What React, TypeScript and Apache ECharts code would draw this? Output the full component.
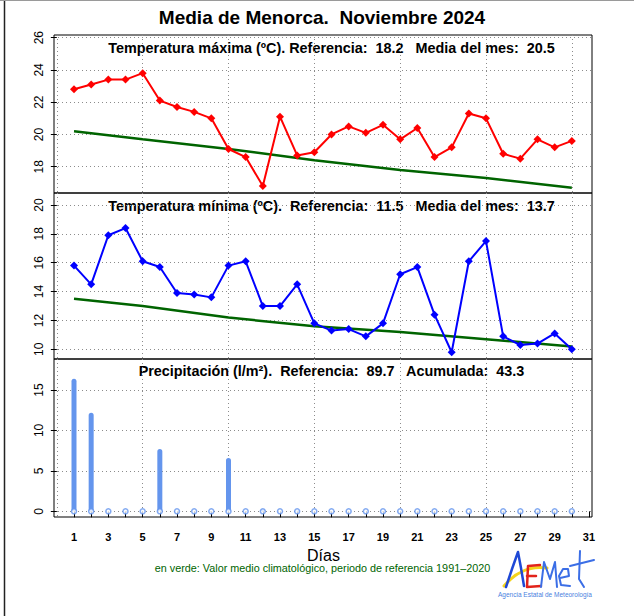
import React, { useEffect, useRef } from "react";
import * as echarts from "echarts";

const FONT = '"Liberation Sans", Arial, Helvetica, sans-serif';

const days = [1, 2, 3, 4, 5, 6, 7, 8, 9, 10, 11, 12, 13, 14, 15, 16, 17, 18, 19, 20, 21, 22, 23, 24, 25, 26, 27, 28, 29, 30];
const tickDays = [1, 2, 3, 4, 5, 6, 7, 8, 9, 10, 11, 12, 13, 14, 15, 16, 17, 18, 19, 20, 21, 22, 23, 24, 25, 26, 27, 28, 29, 30, 31];
const labelDays = [1, 3, 5, 7, 9, 11, 13, 15, 17, 19, 21, 23, 25, 27, 29, 31];
const gridDays = [0, 5, 10, 15, 20, 25, 30];

const tmax = [22.8, 23.1, 23.4, 23.4, 23.8, 22.1, 21.7, 21.4, 21.0, 19.1, 18.6, 16.8, 21.1, 18.7, 18.9, 20.0, 20.5, 20.1, 20.6, 19.7, 20.4, 18.6, 19.2, 21.3, 21.0, 18.8, 18.5, 19.7, 19.2, 19.6];
const tmin = [15.8, 14.5, 17.9, 18.4, 16.1, 15.7, 13.9, 13.8, 13.6, 15.8, 16.1, 13.0, 13.0, 14.5, 11.8, 11.3, 11.4, 10.9, 11.8, 15.2, 15.7, 12.4, 9.8, 16.1, 17.5, 10.9, 10.3, 10.4, 11.1, 10.0];
const precip = [16.4, 12.2, 0, 0, 0, 7.7, 0, 0, 0, 6.6, 0, 0.3, 0, 0.1, 0, 0, 0, 0, 0, 0, 0, 0, 0, 0, 0, 0, 0, 0, 0, 0];

const climDays = [1, 5, 10, 15, 20, 25, 30];
const tmaxClim = [20.2, 19.7, 19.1, 18.4, 17.8, 17.3, 16.7];
const tminClim = [13.5, 13.0, 12.2, 11.6, 11.2, 10.7, 10.2];

const tmaxTicks = [18, 20, 22, 24, 26];
const tminTicks = [10, 12, 14, 16, 18, 20];
const precipTicks = [0, 5, 10, 15];

const mainTitle = "Media de Menorca.  Noviembre 2024";
const tmaxTitle = "Temperatura máxima (ºC). Referencia:  18.2   Media del mes:  20.5";
const tminTitle = "Temperatura mínima (ºC).  Referencia:  11.5   Media del mes:  13.7";
const precipTitle = "Precipitación (l/m²).  Referencia:  89.7   Acumulada:  43.3";
const xName = "Días";
const footnote = "en verde: Valor medio climatológico, periodo de referencia 1991\u20132020";
const logoSub = "Agencia Estatal de Meteorología";

const X_MIN = -0.165;
const X_MAX = 31.175;
const GRID_LINE = { show: true, lineStyle: { type: [1, 3], color: "#8c8c8c", width: 1 } };

function xAxisFor(i: number) {
  return {
    type: "value",
    gridIndex: i,
    min: X_MIN,
    max: X_MAX,
    show: i === 2,
    axisLine: { show: false },
    splitLine: { show: false },
    axisTick: { show: true, customValues: tickDays, length: 6, lineStyle: { color: "#000", width: 1 } },
    axisLabel: { customValues: labelDays, fontWeight: "bold", fontSize: 11, color: "#000", margin: 14, fontFamily: FONT },
  };
}

function xGridAxisFor(i: number) {
  return {
    type: "value",
    gridIndex: i,
    min: X_MIN,
    max: X_MAX,
    show: true,
    axisLine: { show: false },
    axisTick: { show: false, customValues: gridDays },
    axisLabel: { show: false, customValues: gridDays },
    splitLine: GRID_LINE,
  };
}

function yAxisFor(i: number, min: number, max: number, ticks: number[]) {
  return {
    type: "value",
    gridIndex: i,
    min,
    max,
    axisLine: { show: false },
    splitLine: GRID_LINE,
    axisTick: { show: true, customValues: ticks, length: 6, lineStyle: { color: "#000", width: 1 } },
    axisLabel: { customValues: ticks, rotate: 90, fontSize: 12, color: "#000", margin: 9, fontFamily: FONT },
  };
}

export default function App() {
  const ref = useRef<HTMLDivElement>(null);
  useEffect(() => {
    if (!ref.current) return;
    const chart = echarts.init(ref.current, null, { renderer: "svg" });
    const gridBase = { left: 54, right: 42, show: true, borderColor: "#000", borderWidth: 1, backgroundColor: "transparent" };
    const option: any = {
      animation: false,
      backgroundColor: "#fff",
      textStyle: { fontFamily: FONT },
      grid: [
        { ...gridBase, top: 35, height: 158 },
        { ...gridBase, top: 193, height: 166 },
        { ...gridBase, top: 359, height: 158 },
      ],
      xAxis: [xAxisFor(0), xAxisFor(1), xAxisFor(2), xGridAxisFor(0), xGridAxisFor(1), xGridAxisFor(2)],
      yAxis: [
        yAxisFor(0, 16.37, 26.167, tmaxTicks),
        yAxisFor(1, 9.33, 20.83, tminTicks),
        yAxisFor(2, -0.7, 18.83, precipTicks),
      ],
      series: [
        {
          type: "line", xAxisIndex: 0, yAxisIndex: 0, z: 2, showSymbol: false, silent: true,
          data: climDays.map((d, i) => [d, tmaxClim[i]]),
          lineStyle: { color: "#006400", width: 2.5 },
        },
        {
          type: "line", xAxisIndex: 0, yAxisIndex: 0, z: 3, silent: true,
          data: days.map((d, i) => [d, tmax[i]]),
          symbol: "diamond", symbolSize: 8,
          itemStyle: { color: "#ff0000" },
          lineStyle: { color: "#ff0000", width: 2 },
        },
        {
          type: "line", xAxisIndex: 1, yAxisIndex: 1, z: 2, showSymbol: false, silent: true,
          data: climDays.map((d, i) => [d, tminClim[i]]),
          lineStyle: { color: "#006400", width: 2.5 },
        },
        {
          type: "line", xAxisIndex: 1, yAxisIndex: 1, z: 3, silent: true,
          data: days.map((d, i) => [d, tmin[i]]),
          symbol: "diamond", symbolSize: 8,
          itemStyle: { color: "#0000ff" },
          lineStyle: { color: "#0000ff", width: 2 },
        },
        {
          type: "bar", xAxisIndex: 2, yAxisIndex: 2, z: 3, silent: true,
          barWidth: 5,
          data: days.map((d, i) => [d, precip[i]]),
          itemStyle: { color: "#6495ED", borderRadius: [2.5, 2.5, 0, 0] },
        },
        {
          type: "scatter", xAxisIndex: 2, yAxisIndex: 2, z: 4, silent: true,
          data: days.map((d) => [d, 0]),
          symbol: "circle", symbolSize: 5,
          itemStyle: { color: "#ffffff", borderColor: "#6495ED", borderWidth: 1.5 },
        },
      ],
      graphic: [
        { type: "line", shape: { x1: 4.5, y1: 0, x2: 4.5, y2: 616 }, style: { stroke: "#222", lineWidth: 1.5 } },
        { type: "line", shape: { x1: 0, y1: 0.5, x2: 634, y2: 0.5 }, style: { stroke: "#9a9a9a", lineWidth: 1 } },
        { type: "text", x: 322, y: 17, style: { text: mainTitle, font: `bold 19px ${FONT}`, fill: "#000", align: "center", verticalAlign: "middle" } },
        { type: "text", x: 331.5, y: 47.7, style: { text: tmaxTitle, font: `bold 14.4px ${FONT}`, fill: "#000", align: "center", verticalAlign: "middle" } },
        { type: "text", x: 331.5, y: 205.7, style: { text: tminTitle, font: `bold 14.4px ${FONT}`, fill: "#000", align: "center", verticalAlign: "middle" } },
        { type: "text", x: 331.5, y: 371, style: { text: precipTitle, font: `bold 14.4px ${FONT}`, fill: "#000", align: "center", verticalAlign: "middle" } },
        { type: "text", x: 323.5, y: 555, style: { text: xName, font: `16px ${FONT}`, fill: "#000", align: "center", verticalAlign: "middle" } },
        { type: "text", x: 322.5, y: 568, style: { text: footnote, font: `10.8px ${FONT}`, fill: "#006400", align: "center", verticalAlign: "middle" } },
        // AEMET logo
        { type: "bezierCurve", shape: { x1: 504, y1: 586, cpx1: 514, cpy1: 574, cpx2: 528, cpy2: 565, x2: 547, y2: 568 }, style: { stroke: "#f4d31c", lineWidth: 3, fill: "none", lineCap: "round" } },
        { type: "polyline", shape: { points: [[506, 587], [512, 569], [518, 552], [521, 568], [524, 586]] }, style: { stroke: "#1e48d6", lineWidth: 2.5, fill: "none", lineCap: "round", lineJoin: "round" } },
        { type: "polyline", shape: { points: [[540, 565], [528, 566], [527, 587], [541, 586]] }, style: { stroke: "#e2231a", lineWidth: 2.5, fill: "none", lineCap: "round", lineJoin: "round" } },
        { type: "polyline", shape: { points: [[527, 576], [536, 576]] }, style: { stroke: "#e2231a", lineWidth: 2.5, fill: "none", lineCap: "round" } },
        { type: "polyline", shape: { points: [[541, 587], [544, 562], [550, 579], [555, 562], [557, 587]] }, style: { stroke: "#3b6ee6", lineWidth: 2, fill: "none", lineCap: "round", lineJoin: "round" } },
        { type: "polyline", shape: { points: [[560, 578], [569, 576], [568, 569], [563, 569], [559, 576], [561, 585], [570, 586]] }, style: { stroke: "#3b6ee6", lineWidth: 2, fill: "none", lineCap: "round", lineJoin: "round" } },
        { type: "polyline", shape: { points: [[580, 551], [579, 579], [584, 587]] }, style: { stroke: "#3b6ee6", lineWidth: 2, fill: "none", lineCap: "round", lineJoin: "round" } },
        { type: "polyline", shape: { points: [[570, 566], [594, 560]] }, style: { stroke: "#3b6ee6", lineWidth: 2, fill: "none", lineCap: "round" } },
        { type: "text", x: 545, y: 594, style: { text: logoSub, font: `6.5px ${FONT}`, fill: "#4a7fe0", align: "center", verticalAlign: "middle" } },
      ],
    };
    chart.setOption(option);
    return () => chart.dispose();
  }, []);
  return <div ref={ref} style={{ position: "absolute", left: 0, top: 0, width: 634, height: 616 }} />;
}
